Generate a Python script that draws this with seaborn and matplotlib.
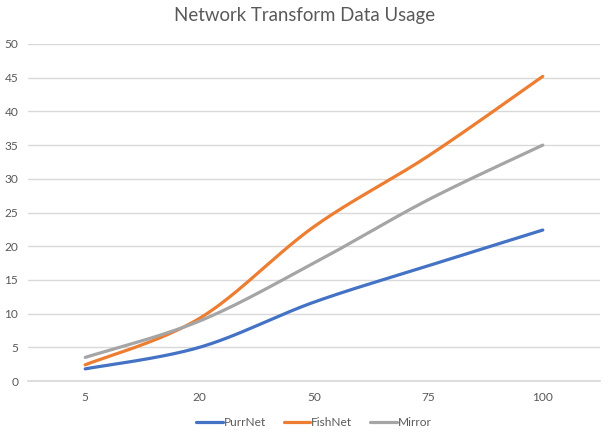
import numpy as np
import pandas as pd
import matplotlib
matplotlib.use("Agg")
import matplotlib.pyplot as plt
import seaborn as sns

# Data
categories = ["5", "20", "50", "75", "100"]
purrnet = [1.8, 5.0, 11.7, 17.1, 22.4]
fishnet = [2.4, 9.3, 22.9, 33.4, 45.2]
mirror = [3.5, 8.9, 17.5, 26.9, 35.0]

series = {"PurrNet": purrnet, "FishNet": fishnet, "Mirror": mirror}
colors = {"PurrNet": "#4472C4", "FishNet": "#ED7D31", "Mirror": "#A5A5A5"}


def smooth(y, steps=40):
    # Excel-style smoothed line (Catmull-Rom through the points)
    y = np.asarray(y, dtype=float)
    x = np.arange(len(y), dtype=float)
    px = np.concatenate([[x[0]], x, [x[-1]]])
    py = np.concatenate([[y[0]], y, [y[-1]]])
    xs, ys = [], []
    for i in range(1, len(px) - 2):
        p0, p1, p2, p3 = px[i - 1], px[i], px[i + 1], px[i + 2]
        q0, q1, q2, q3 = py[i - 1], py[i], py[i + 1], py[i + 2]
        c1x, c1y = p1 + (p2 - p0) / 6, q1 + (q2 - q0) / 6
        c2x, c2y = p2 - (p3 - p1) / 6, q2 - (q3 - q1) / 6
        t = np.linspace(0, 1, steps)
        b0, b1, b2, b3 = (1 - t) ** 3, 3 * t * (1 - t) ** 2, 3 * t ** 2 * (1 - t), t ** 3
        xs.extend(b0 * p1 + b1 * c1x + b2 * c2x + b3 * p2)
        ys.extend(b0 * q1 + b1 * c1y + b2 * c2y + b3 * q2)
    return np.array(xs), np.array(ys)


sns.set_theme(style="white")
plt.rcParams['font.family'] = ['Lato', 'DejaVu Sans']

fig = plt.figure(figsize=(6.09, 4.38), dpi=100)
ax = fig.add_axes([28 / 609, 1 - 381 / 438, 572 / 609, 337 / 438])

frames = []
for name, vals in series.items():
    xs, ys = smooth(vals)
    frames.append(pd.DataFrame({"x": xs, "y": ys, "Series": name}))
df = pd.concat(frames, ignore_index=True)

sns.lineplot(data=df, x="x", y="y", hue="Series", palette=colors,
             sort=False, estimator=None, linewidth=2.3, ax=ax)

ax.set_xlim(-0.5, len(categories) - 0.5)
ax.set_ylim(0, 50)
ax.set_xticks(range(len(categories)))
ax.set_xticklabels(categories)
ax.set_yticks(range(0, 51, 5))
ax.set_xlabel("")
ax.set_ylabel("")
ax.yaxis.grid(True, color="#D9D9D9", linewidth=1)
ax.set_axisbelow(True)
for s in ["top", "right", "left"]:
    ax.spines[s].set_visible(False)
ax.spines["bottom"].set_color("#D9D9D9")
ax.tick_params(axis="both", length=0, labelsize=8.6, colors="#595959")
ax.tick_params(axis="x", pad=8)
ax.tick_params(axis="y", pad=7)

fig.suptitle("Network Transform Data Usage", y=0.985, fontsize=13.4, color="#595959")

ax.legend(loc="upper center", bbox_to_anchor=(0.5, -0.075), ncol=3, frameon=False,
          fontsize=8.6, labelcolor="#595959", handlelength=2.2, handletextpad=0.1,
          columnspacing=1.5)

fig.savefig("out.png", dpi=100)
